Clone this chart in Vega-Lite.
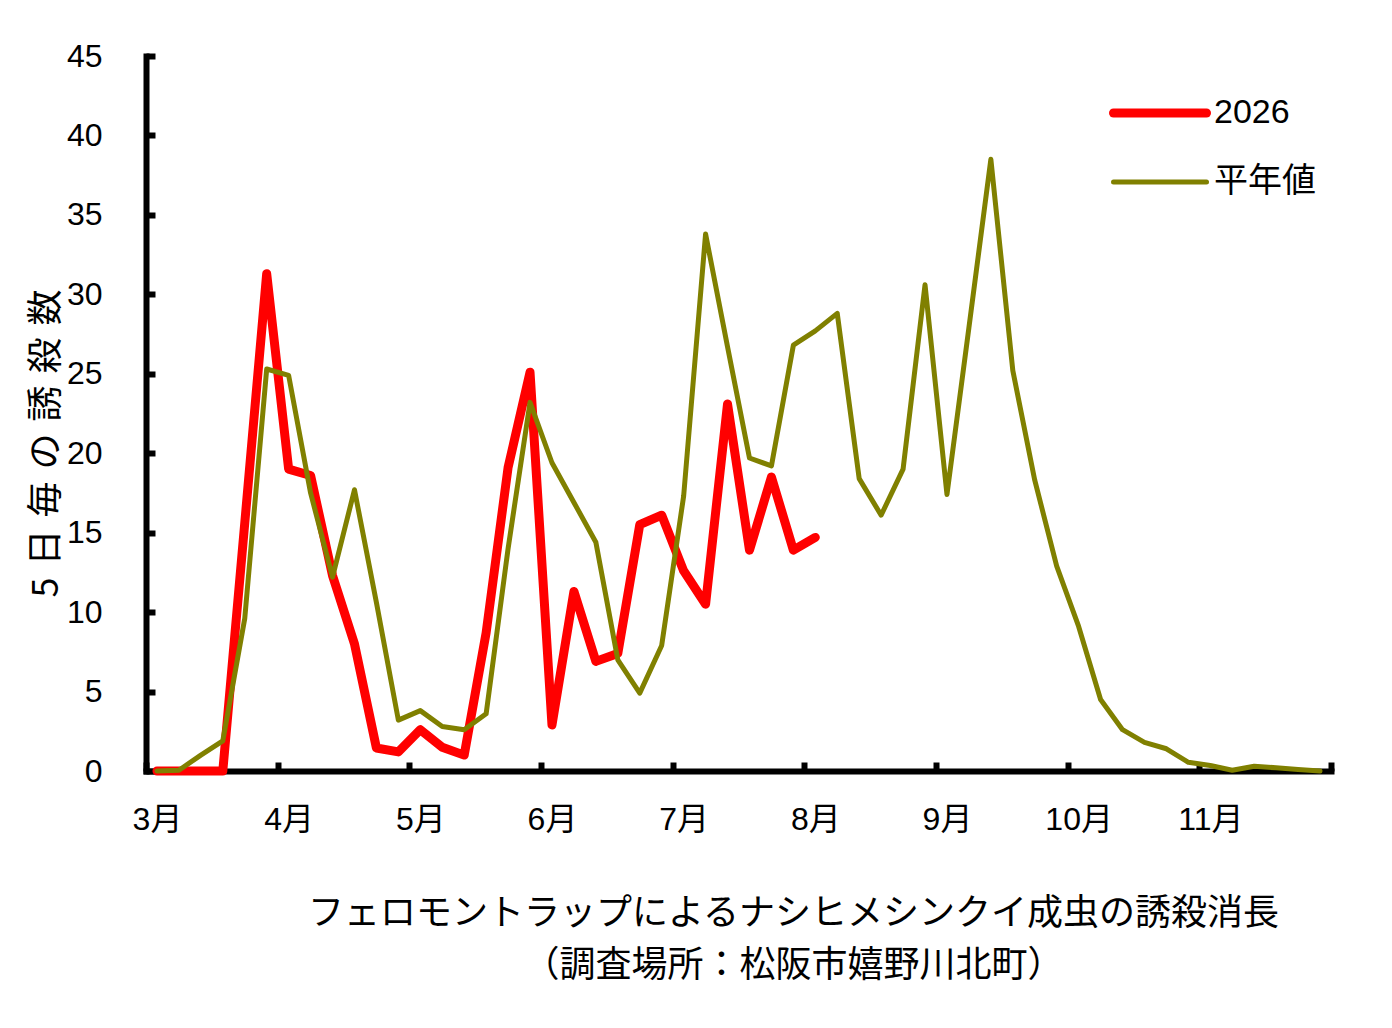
{
  "$schema": "https://vega.github.io/schema/vega-lite/v6.json",
  "width": 1185,
  "height": 715,
  "autosize": {"type": "none"},
  "padding": {"left": 146, "top": 56, "right": 61, "bottom": 257},
  "background": "white",
  "config": {"view": {"stroke": null}, "font": "Liberation Sans, Noto Sans CJK JP"},
  "data": {"values": [
    {"p": 0, "series": "2026", "v": 0}, {"p": 1, "series": "2026", "v": 0}, {"p": 2, "series": "2026", "v": 0}, {"p": 3, "series": "2026", "v": 0},
    {"p": 4, "series": "2026", "v": 15.6}, {"p": 5, "series": "2026", "v": 31.3}, {"p": 6, "series": "2026", "v": 19.0}, {"p": 7, "series": "2026", "v": 18.6},
    {"p": 8, "series": "2026", "v": 12.3}, {"p": 9, "series": "2026", "v": 8.0}, {"p": 10, "series": "2026", "v": 1.45}, {"p": 11, "series": "2026", "v": 1.2},
    {"p": 12, "series": "2026", "v": 2.6}, {"p": 13, "series": "2026", "v": 1.5}, {"p": 14, "series": "2026", "v": 1.0}, {"p": 15, "series": "2026", "v": 8.7},
    {"p": 16, "series": "2026", "v": 19.1}, {"p": 17, "series": "2026", "v": 25.1}, {"p": 18, "series": "2026", "v": 2.9}, {"p": 19, "series": "2026", "v": 11.3},
    {"p": 20, "series": "2026", "v": 6.9}, {"p": 21, "series": "2026", "v": 7.4}, {"p": 22, "series": "2026", "v": 15.5}, {"p": 23, "series": "2026", "v": 16.1},
    {"p": 24, "series": "2026", "v": 12.6}, {"p": 25, "series": "2026", "v": 10.5}, {"p": 26, "series": "2026", "v": 23.1}, {"p": 27, "series": "2026", "v": 13.9},
    {"p": 28, "series": "2026", "v": 18.5}, {"p": 29, "series": "2026", "v": 13.9}, {"p": 30, "series": "2026", "v": 14.7},
    {"p": 0, "series": "平年値", "v": 0}, {"p": 1, "series": "平年値", "v": 0.05}, {"p": 2, "series": "平年値", "v": 1.0}, {"p": 3, "series": "平年値", "v": 1.9},
    {"p": 4, "series": "平年値", "v": 9.6}, {"p": 5, "series": "平年値", "v": 25.3}, {"p": 6, "series": "平年値", "v": 24.9}, {"p": 7, "series": "平年値", "v": 17.5},
    {"p": 8, "series": "平年値", "v": 12.2}, {"p": 9, "series": "平年値", "v": 17.7}, {"p": 10, "series": "平年値", "v": 10.6}, {"p": 11, "series": "平年値", "v": 3.2},
    {"p": 12, "series": "平年値", "v": 3.8}, {"p": 13, "series": "平年値", "v": 2.8}, {"p": 14, "series": "平年値", "v": 2.6}, {"p": 15, "series": "平年値", "v": 3.6},
    {"p": 16, "series": "平年値", "v": 14.0}, {"p": 17, "series": "平年値", "v": 23.2}, {"p": 18, "series": "平年値", "v": 19.4}, {"p": 19, "series": "平年値", "v": 16.9},
    {"p": 20, "series": "平年値", "v": 14.4}, {"p": 21, "series": "平年値", "v": 7.0}, {"p": 22, "series": "平年値", "v": 4.9}, {"p": 23, "series": "平年値", "v": 7.9},
    {"p": 24, "series": "平年値", "v": 17.3}, {"p": 25, "series": "平年値", "v": 33.8}, {"p": 26, "series": "平年値", "v": 26.7}, {"p": 27, "series": "平年値", "v": 19.7},
    {"p": 28, "series": "平年値", "v": 19.2}, {"p": 29, "series": "平年値", "v": 26.8}, {"p": 30, "series": "平年値", "v": 27.7}, {"p": 31, "series": "平年値", "v": 28.8},
    {"p": 32, "series": "平年値", "v": 18.4}, {"p": 33, "series": "平年値", "v": 16.1}, {"p": 34, "series": "平年値", "v": 19.0}, {"p": 35, "series": "平年値", "v": 30.6},
    {"p": 36, "series": "平年値", "v": 17.4}, {"p": 37, "series": "平年値", "v": 27.9}, {"p": 38, "series": "平年値", "v": 38.5}, {"p": 39, "series": "平年値", "v": 25.2},
    {"p": 40, "series": "平年値", "v": 18.3}, {"p": 41, "series": "平年値", "v": 12.9}, {"p": 42, "series": "平年値", "v": 9.1}, {"p": 43, "series": "平年値", "v": 4.5},
    {"p": 44, "series": "平年値", "v": 2.6}, {"p": 45, "series": "平年値", "v": 1.8}, {"p": 46, "series": "平年値", "v": 1.4}, {"p": 47, "series": "平年値", "v": 0.55},
    {"p": 48, "series": "平年値", "v": 0.35}, {"p": 49, "series": "平年値", "v": 0.05}, {"p": 50, "series": "平年値", "v": 0.3}, {"p": 51, "series": "平年値", "v": 0.2},
    {"p": 52, "series": "平年値", "v": 0.1}, {"p": 53, "series": "平年値", "v": 0.0}
  ]},
  "encoding": {
    "x": {
      "field": "p", "type": "quantitative",
      "scale": {"domain": [-0.5, 53.5], "nice": false, "zero": false},
      "axis": {
        "values": [-0.5, 5.5, 11.5, 17.5, 23.5, 29.5, 35.5, 41.5, 47.5, 53.5],
        "labelExpr": "datum.value < 53 ? (3 + round((datum.value + 0.5) / 6)) + '月' : ''",
        "labelOffset": 11, "labelFontSize": 32, "labelColor": "black", "labelPadding": 42,
        "labelFont": "Liberation Sans, Noto Sans CJK JP",
        "labelFlush": false, "labelOverlap": false, "labelBound": false, "labelAlign": "center",
        "domainColor": "black", "domainWidth": 6, "domainCap": "square",
        "tickColor": "black", "tickWidth": 6, "tickSize": -9, "grid": false,
        "title": ["フェロモントラップによるナシヒメシンクイ成虫の誘殺消長", "（調査場所：松阪市嬉野川北町）"],
        "titleFont": "Noto Sans CJK JP", "titleFontSize": 36, "titleFontWeight": "normal", "titleColor": "black",
        "titleLineHeight": 52, "titleX": 647, "titleY": 142, "titleBaseline": "middle", "titleAlign": "center"
      }
    },
    "y": {
      "field": "v", "type": "quantitative",
      "scale": {"domain": [0, 45], "nice": false},
      "axis": {
        "values": [0, 5, 10, 15, 20, 25, 30, 35, 40, 45],
        "labelFontSize": 32, "labelColor": "black", "labelPadding": 53, "labelFont": "Liberation Sans",
        "labelFlush": false, "labelOverlap": false, "labelBound": false,
        "domainColor": "black", "domainWidth": 6, "domainCap": "square",
        "tickColor": "black", "tickWidth": 6, "tickSize": -9, "grid": false,
        "title": "5\u2004日\u2004毎\u2004の\u2004誘\u2004殺\u2004数",
        "titleFont": "Noto Sans CJK JP", "titleFontSize": 36, "titleFontWeight": "normal", "titleColor": "black",
        "titleAngle": 270, "titleX": -100, "titleY": 387, "titleBaseline": "middle", "titleAlign": "center"
      }
    },
    "color": {
      "field": "series", "type": "nominal",
      "scale": {"domain": ["2026", "平年値"], "range": ["#ff0000", "#808000"]},
      "legend": {
        "title": null, "orient": "none", "legendX": 994, "legendY": 37, "padding": 0,
        "labelFontSize": 34, "labelFont": "Liberation Sans, Noto Sans CJK JP", "labelColor": "black",
        "symbolType": "M-3,0H3", "symbolSize": 961, "labelOffset": 34, "rowPadding": 33,
        "encode": {"symbols": {"update": {"strokeCap": {"value": "round"}}}}
      }
    },
    "strokeWidth": {
      "field": "series", "type": "nominal",
      "scale": {"type": "ordinal", "domain": ["2026", "平年値"], "range": [9, 5]}
    }
  },
  "layer": [
    {"transform": [{"filter": "datum.series === '2026'"}], "mark": {"type": "line", "strokeJoin": "round", "strokeCap": "round"}},
    {"transform": [{"filter": "datum.series === '平年値'"}], "mark": {"type": "line", "strokeJoin": "round", "strokeCap": "round"}}
  ]
}
